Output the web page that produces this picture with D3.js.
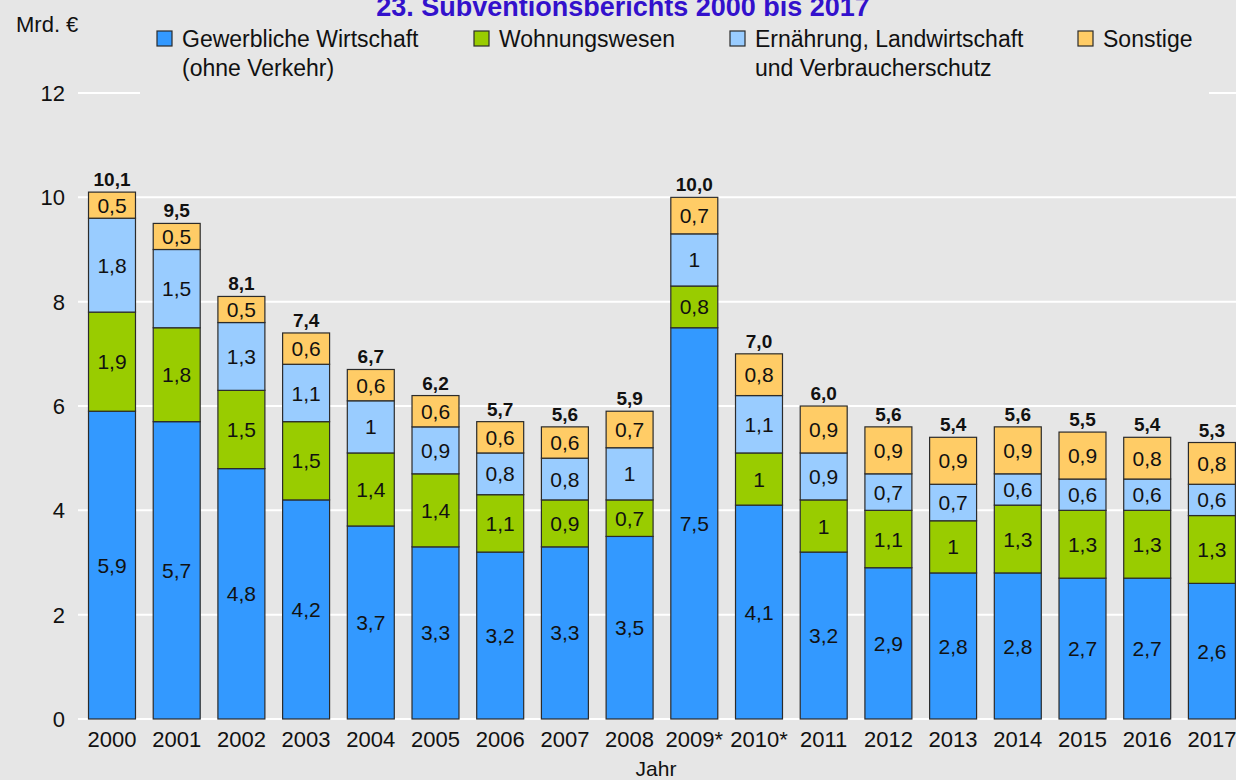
<!DOCTYPE html>
<html>
<head>
<meta charset="utf-8">
<script src="https://cdn.jsdelivr.net/npm/d3@7"></script>
<style>
  body { margin: 0; background: #e6e6e6; }
  svg { display: block; font-family: "Liberation Sans", Arial, sans-serif; }
</style>
</head>
<body>
<svg id="chart" width="1236" height="780"></svg>
<script>
/* stacked bars of the subsidy report 2000 - 2017 */

// data
const years = ["2000", "2001", "2002", "2003", "2004", "2005", "2006", "2007", "2008",
    "2009*", "2010*", "2011", "2012", "2013", "2014", "2015", "2016", "2017"];
const gewerbe = [5.9, 5.7, 4.8, 4.2, 3.7, 3.3, 3.2, 3.3, 3.5, 7.5, 4.1, 3.2, 2.9, 2.8, 2.8, 2.7, 2.7, 2.6];
const wohnung = [1.9, 1.8, 1.5, 1.5, 1.4, 1.4, 1.1, 0.9, 0.7, 0.8, 1, 1, 1.1, 1, 1.3, 1.3, 1.3, 1.3];
const ernaehrung = [1.8, 1.5, 1.3, 1.1, 1, 0.9, 0.8, 0.8, 1, 1, 1.1, 0.9, 0.7, 0.7, 0.6, 0.6, 0.6, 0.6];
const sonstige = [0.5, 0.5, 0.5, 0.6, 0.6, 0.6, 0.6, 0.6, 0.7, 0.7, 0.8, 0.9, 0.9, 0.9, 0.9, 0.9, 0.8, 0.8];
const totals = [10.1, 9.5, 8.1, 7.4, 6.7, 6.2, 5.7, 5.6, 5.9, 10.0, 7.0, 6.0, 5.6, 5.4, 5.6, 5.5, 5.4, 5.3];
const yTicks = [0, 2, 4, 6, 8, 10, 12];

const seriesKeys = ["gewerbe", "wohnung", "ernaehrung", "sonstige"];
const seriesColors = ["#3399ff", "#99cc00", "#99ccff", "#ffcc66"];
const legendLines = [
    ["Gewerbliche Wirtschaft", "(ohne Verkehr)"],
    ["Wohnungswesen"],
    ["Ernährung, Landwirtschaft", "und Verbraucherschutz"],
    ["Sonstige"]
];
const legendX = [157, 474, 730, 1078];

const rows = years.map((y, i) => ({
    year: y,
    gewerbe: gewerbe[i],
    wohnung: wohnung[i],
    ernaehrung: ernaehrung[i],
    sonstige: sonstige[i],
    total: totals[i]
}));

const bg = "#e6e6e6";
const svg = d3.select("svg#chart");

// scales
const x = d3.scaleBand()
    .domain(years)
    .range([79.65, 1244.25])
    .paddingInner(0.274)
    .paddingOuter(0.137);

const y = d3.scaleLinear()
    .domain([0, 12])
    .range([719, 93]);

const comma = (v) => String(v).replace(".", ",");
const commaFixed = (v) => d3.format(".1f")(v).replace(".", ",");

// gridlines
svg.append("g").selectAll("line")
    .data(yTicks)
    .join("line")
    .attr("x1", 78)
    .attr("x2", 1236)
    .attr("y1", d => y(d))
    .attr("y2", d => y(d))
    .attr("stroke", "#ffffff")
    .attr("stroke-width", 2);

// y axis labels
svg.append("g").selectAll("text")
    .data(yTicks)
    .join("text")
    .attr("x", 65)
    .attr("y", d => y(d))
    .attr("dy", "0.36em")
    .attr("text-anchor", "end")
    .attr("font-size", 22)
    .attr("fill", "#111")
    .text(d => d);

// stacked bars
const stacked = d3.stack().keys(seriesKeys)(rows);

const layers = svg.append("g").selectAll("g")
    .data(stacked)
    .join("g")
    .attr("fill", (d, i) => seriesColors[i]);

layers.selectAll("rect")
    .data(d => d)
    .join("rect")
    .attr("x", d => x(d.data.year))
    .attr("width", x.bandwidth())
    .attr("y", d => y(d[1]))
    .attr("height", d => y(d[0]) - y(d[1]))
    .attr("stroke", "#2b2b2b")
    .attr("stroke-width", 1.2);

// segment labels
const labels = svg.append("g")
    .attr("font-size", 21)
    .attr("fill", "#111")
    .attr("text-anchor", "middle");

stacked.forEach(layer => {
    labels.append("g").selectAll("text")
        .data(layer)
        .join("text")
        .attr("x", d => x(d.data.year) + x.bandwidth() / 2)
        .attr("y", d => (y(d[0]) + y(d[1])) / 2)
        .attr("dy", "0.36em")
        .text(d => comma(d.data[layer.key]));
});

// totals on top
svg.append("g").selectAll("text")
    .data(rows)
    .join("text")
    .attr("x", d => x(d.year) + x.bandwidth() / 2)
    .attr("y", d => y(d.gewerbe + d.wohnung + d.ernaehrung + d.sonstige) - 6)
    .attr("text-anchor", "middle")
    .attr("font-size", 19)
    .attr("font-weight", "bold")
    .attr("fill", "#111")
    .text(d => commaFixed(d.total));

// x axis labels
svg.append("g").selectAll("text")
    .data(years)
    .join("text")
    .attr("x", d => x(d) + x.bandwidth() / 2)
    .attr("y", 747)
    .attr("text-anchor", "middle")
    .attr("font-size", 22)
    .attr("fill", "#111")
    .text(d => d);

svg.append("text")
    .attr("x", 656)
    .attr("y", 776)
    .attr("text-anchor", "middle")
    .attr("font-size", 21)
    .attr("fill", "#111")
    .text("Jahr");

// unit label
svg.append("text")
    .attr("x", 16)
    .attr("y", 32)
    .attr("font-size", 22)
    .attr("fill", "#111")
    .text("Mrd. €");

// legend (its box hides the 12 gridline)
const legend = svg.append("g");
legend.append("rect")
    .attr("x", 140)
    .attr("y", 20)
    .attr("width", 1069)
    .attr("height", 80)
    .attr("fill", bg);

const items = legend.selectAll("g.item")
    .data(legendLines)
    .join("g")
    .attr("class", "item")
    .attr("transform", (d, i) => `translate(${legendX[i]},0)`);

items.append("rect")
    .attr("x", 0)
    .attr("y", 31)
    .attr("width", 15)
    .attr("height", 15)
    .attr("fill", (d, i) => seriesColors[i])
    .attr("stroke", "#2b2b2b")
    .attr("stroke-width", 1.2);

items.append("text")
    .attr("x", 25)
    .attr("font-size", 23)
    .attr("fill", "#111")
    .selectAll("tspan")
    .data(d => d)
    .join("tspan")
    .attr("x", 25)
    .attr("y", (d, i) => 47 + i * 29)
    .text(d => d);

// title, cut off at the top edge as in the source image
svg.append("text")
    .attr("x", 623)
    .attr("y", 16)
    .attr("text-anchor", "middle")
    .attr("font-size", 27)
    .attr("font-weight", "bold")
    .attr("fill", "#3311cc")
    .text("23. Subventionsberichts 2000 bis 2017");
</script>
</body>
</html>
